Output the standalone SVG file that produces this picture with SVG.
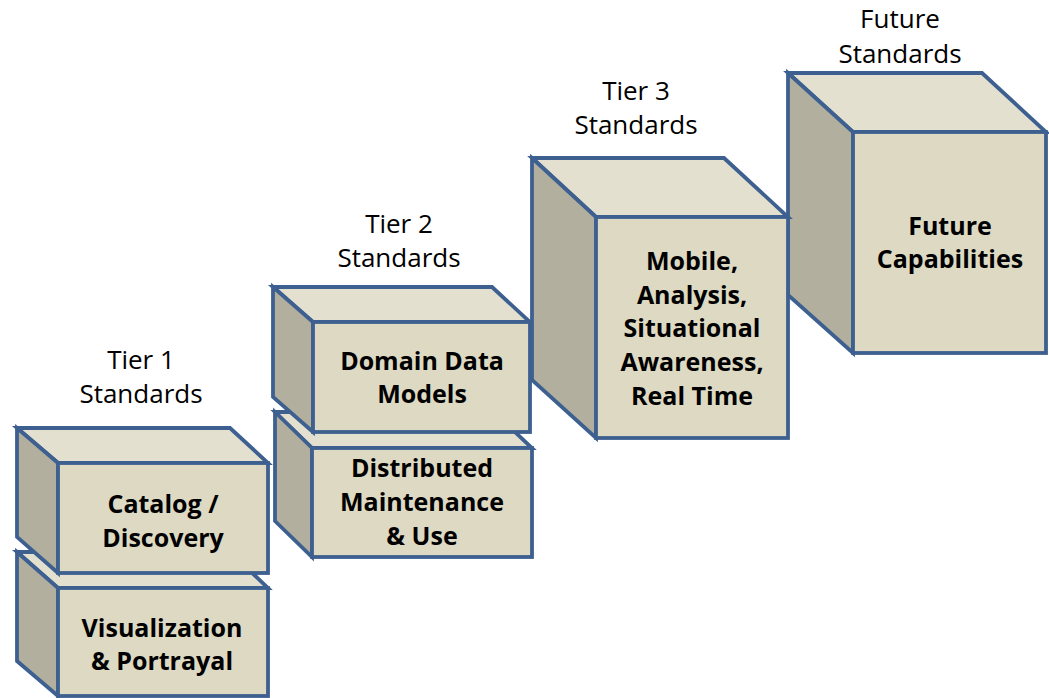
<svg xmlns="http://www.w3.org/2000/svg" width="1049" height="698" viewBox="0 0 1049 698">
<style>
.front{fill:#DDD9C3;stroke:#3D6090;stroke-width:3.8;stroke-linejoin:miter}
.top{fill:#E3E0CF;stroke:#3D6090;stroke-width:3.8;stroke-linejoin:miter}
.side{fill:#B2AF9E;stroke:#3D6090;stroke-width:3.8;stroke-linejoin:miter}
.lbl{font-family:"Open Sans","Liberation Sans",sans-serif;font-weight:bold;font-size:25px;fill:#000;text-anchor:middle}
.tier{font-family:"Open Sans","Liberation Sans",sans-serif;font-size:26px;fill:#000;text-anchor:middle}
</style>
<rect width="1049" height="698" fill="#FFFFFF"/>
<g id="tier-labels">
<text class="tier" x="141" y="369">Tier 1</text>
<text class="tier" x="141" y="403">Standards</text>
<text class="tier" x="399" y="233">Tier 2</text>
<text class="tier" x="399" y="267">Standards</text>
<text class="tier" x="636" y="100">Tier 3</text>
<text class="tier" x="636" y="134">Standards</text>
<text class="tier" x="900" y="28">Future</text>
<text class="tier" x="900" y="63">Standards</text>
</g>
<g id="connectors"></g>
<g id="visualization">
<polygon class="top" points="17,552 230,552 268,588 58,588"/>
<polygon class="side" points="17,552 58,588 58,696 17,661"/>
<rect class="front" x="58" y="588" width="210" height="108"/>
<text class="lbl" x="162" y="637">Visualization</text>
<text class="lbl" x="162" y="670">&amp; Portrayal</text>
</g>
<g id="catalog">
<polygon class="top" points="17,428 230,428 268,463 58,463"/>
<polygon class="side" points="17,428 58,463 58,573 17,537"/>
<rect class="front" x="58" y="463" width="210" height="110"/>
<text class="lbl" x="163" y="513">Catalog /</text>
<text class="lbl" x="163" y="547">Discovery</text>
</g>
<g id="distributed">
<polygon class="top" points="275,412 494,412 532,448 312,448"/>
<polygon class="side" points="275,412 312,448 312,557 275,521"/>
<rect class="front" x="312" y="448" width="220" height="109"/>
<text class="lbl" x="422" y="477">Distributed</text>
<text class="lbl" x="422" y="511">Maintenance</text>
<text class="lbl" x="422" y="545">&amp; Use</text>
</g>
<g id="domain">
<polygon class="top" points="273,287 492,287 530,322 313,322"/>
<polygon class="side" points="273,287 313,322 313,432 273,397"/>
<rect class="front" x="313" y="322" width="217" height="110"/>
<text class="lbl" x="422" y="370">Domain Data</text>
<text class="lbl" x="422" y="403">Models</text>
</g>
<g id="future">
<polygon class="top" points="788,73 982,73 1046,132 853,132"/>
<polygon class="side" points="788,73 853,132 853,353 788,295"/>
<rect class="front" x="853" y="132" width="193" height="221"/>
<text class="lbl" x="950" y="235">Future</text>
<text class="lbl" x="950" y="268">Capabilities</text>
</g>
<g id="mobile">
<polygon class="top" points="532,158 724,158 788,217 596,217"/>
<polygon class="side" points="532,158 596,217 596,438 532,380"/>
<rect class="front" x="596" y="217" width="192" height="221"/>
<text class="lbl" x="692" y="270">Mobile,</text>
<text class="lbl" x="692" y="304">Analysis,</text>
<text class="lbl" x="692" y="337">Situational</text>
<text class="lbl" x="692" y="371">Awareness,</text>
<text class="lbl" x="692" y="405">Real Time</text>
</g>
</svg>
